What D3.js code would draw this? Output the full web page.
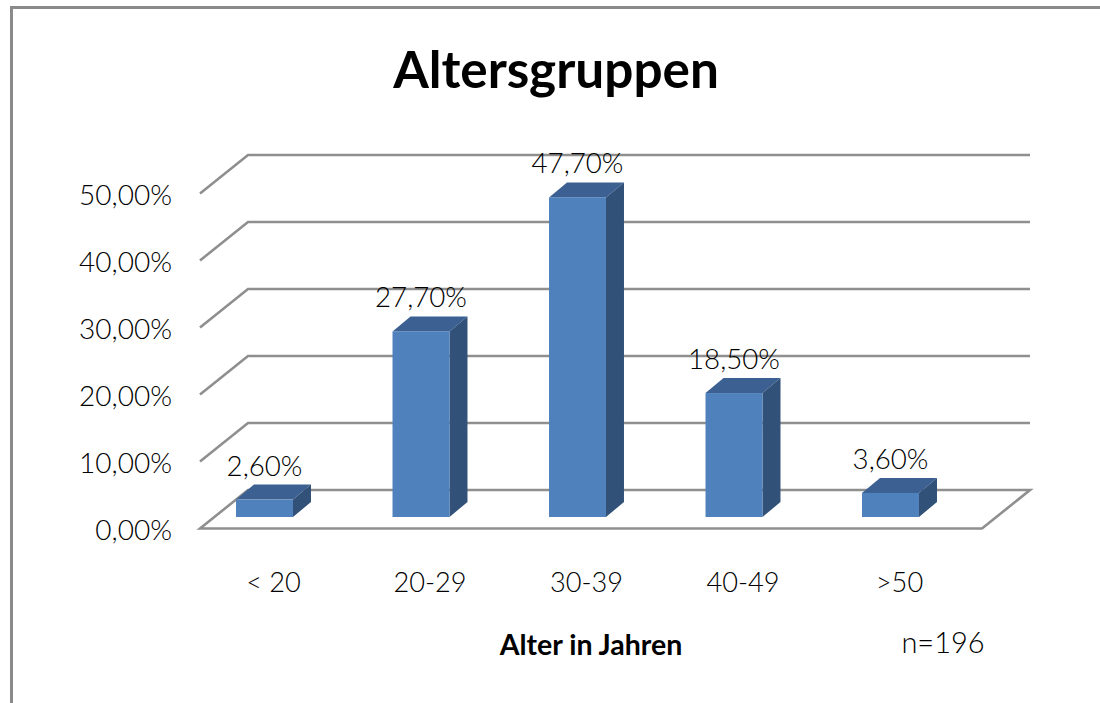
<!DOCTYPE html>
<html>
<head>
<meta charset="utf-8">
<script src="https://cdn.jsdelivr.net/npm/d3@7/dist/d3.min.js"></script>
<style>
html,body{margin:0;padding:0;background:#fff}
svg{display:block}
text{font-family:Lato,"Open Sans",sans-serif;fill:#000}
</style>
</head>
<body>
<svg id="chart" width="1100" height="703"></svg>
<script>
// Age group shares, in percent
const categories = ["< 20", "20-29", "30-39", "40-49", ">50"];
const shares = [2.6, 27.7, 47.7, 18.5, 3.6];
const axisTicks = [0, 10, 20, 30, 40, 50];
const titleText = "Altersgruppen";
const axisTitle = "Alter in Jahren";
const sampleNote = "n=196";

const comma = v => v.toFixed(2).replace(".", ",") + "%";
const svg = d3.select("#chart");

// Frame around the chart area
svg.append("path")
  .attr("d", "M11.5,703V7.5H1100")
  .attr("fill", "none").attr("stroke", "#8a8a8a").attr("stroke-width", 3);

// Oblique projection: bars stand on a middle plane; walls and floor are offset from it
const bar = { depthX: 18, depthY: -15 };
const wall = { dx: 48, dy: -39 };
const y = d3.scaleLinear().domain([0, 50]).range([517, 182]);
const x = d3.scaleBand().domain(categories).range([186.25, 968.75]).paddingInner(0.636).paddingOuter(0.318);

const backY = v => y(v) - 27;
const frontY = v => backY(v) + 38.5;
const leftX = 200, backLeftX = leftX + wall.dx, backRightX = 1030, frontRightX = 982;

// Back-wall gridlines with their slanted side-wall segments
const grid = svg.append("g").attr("fill", "none").attr("stroke", "#8f8f8f").attr("stroke-width", 2.6);
grid.selectAll("path").data(axisTicks).join("path")
  .attr("d", v => v === 0
    ? `M${leftX},${frontY(0)}L${backLeftX},${backY(0)}H${backRightX}L${frontRightX},${frontY(0)}Z`
    : `M${leftX},${frontY(v)}L${backLeftX},${backY(v)}H${backRightX}`);

// Extruded columns: top, side, then front face
const bars = svg.append("g").selectAll("g").data(categories.map((c, i) => ({ c, v: shares[i] }))).join("g");
bars.append("path").attr("fill", "#3b6091").attr("d", d => {
  const l = x(d.c), r = l + x.bandwidth(), t = y(d.v);
  return `M${l},${t}L${l + bar.depthX},${t + bar.depthY}H${r + bar.depthX}L${r},${t}Z`;
});
bars.append("path").attr("fill", "#315179").attr("d", d => {
  const r = x(d.c) + x.bandwidth(), t = y(d.v), b = y(0);
  return `M${r},${t}L${r + bar.depthX},${t + bar.depthY}V${b + bar.depthY}L${r},${b}Z`;
});
bars.append("rect").attr("fill", "#4f81bd")
  .attr("x", d => x(d.c)).attr("y", d => y(d.v))
  .attr("width", x.bandwidth()).attr("height", d => y(0) - y(d.v));

// Value labels above each column
bars.append("text").attr("text-anchor", "middle").attr("font-size", 27.7).attr("font-weight", 300)
  .attr("x", d => x(d.c) + x.bandwidth() / 2)
  .attr("y", d => y(d.v) - 24)
  .text(d => comma(d.v));

// Axis tick labels, drawn by the library's axes with lines removed
const yAxis = svg.append("g").attr("transform", "translate(172,13.5)")
  .call(d3.axisLeft(y).tickValues(axisTicks).tickFormat(comma).tickSize(0).tickPadding(0));
const xAxis = svg.append("g").attr("transform", "translate(9,573)")
  .call(d3.axisBottom(x).tickSize(0).tickPadding(0));
yAxis.selectAll("text").attr("font-size", 28);
xAxis.selectAll("text").attr("font-size", 27.2);
[yAxis, xAxis].forEach(a => {
  a.select(".domain").remove();
  a.selectAll("text").attr("font-weight", 300).style("font-family", "Lato,'Open Sans',sans-serif").attr("fill", "#000");
});

// Chart title, axis title and sample size
svg.append("text").attr("x", 556).attr("y", 88).attr("text-anchor", "middle")
  .attr("font-size", 51.3).attr("font-weight", 700).text(titleText);
svg.append("text").attr("x", 591).attr("y", 655).attr("text-anchor", "middle")
  .attr("font-size", 28.5).attr("font-weight", 700).text(axisTitle);
svg.append("text").attr("x", 943).attr("y", 653).attr("text-anchor", "middle")
  .attr("font-size", 29).attr("font-weight", 300).text(sampleNote);
</script>
</body>
</html>
